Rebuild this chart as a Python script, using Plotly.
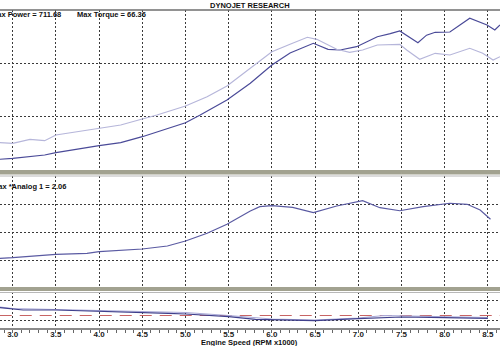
import plotly.graph_objects as go

# ---------------- data ----------------
power_rpm = [2.85, 3.0, 3.37, 3.5, 4.0, 4.25, 4.5, 4.67, 5.0, 5.17, 5.48, 5.75, 6.0, 6.21, 6.48,
             6.65, 6.79, 6.98, 7.22, 7.37, 7.48, 7.69, 7.79, 7.89, 8.06, 8.29, 8.49, 8.58, 8.64]
power_hp = [50.2, 54.8, 70.3, 81.1, 113.9, 128.0, 156.1, 179.5, 221.7, 257.8, 328.1, 406.4, 492.2,
            548.4, 593.9, 565.8, 562.5, 578.0, 624.8, 639.0, 651.6, 596.7, 632.0, 645.5, 646.9,
            711.68, 679.7, 656.3, 679.7]

torque_rpm = [2.85, 3.0, 3.2, 3.37, 3.5, 3.74, 4.0, 4.25, 4.5, 4.67, 5.0, 5.25, 5.48, 5.75, 6.0,
              6.21, 6.41, 6.52, 6.75, 6.9, 7.05, 7.22, 7.48, 7.56, 7.71, 7.89, 8.06, 8.29, 8.44,
              8.56, 8.64]
torque_val = [13.65, 13.35, 15.35, 14.65, 17.5, 19.15, 20.85, 22.5, 25.5, 27.5, 32.0, 36.65, 42.0,
              50.85, 59.15, 62.85, 66.36, 65.35, 60.35, 58.85, 60.0, 62.5, 62.85, 60.0, 55.35,
              58.35, 57.5, 60.85, 58.35, 55.0, 56.65]

analog_rpm = [2.85, 3.0, 3.5, 3.86, 4.0, 4.5, 4.79, 5.0, 5.25, 5.48, 5.75, 5.86, 6.0, 6.24, 6.48,
              6.75, 7.05, 7.25, 7.48, 7.75, 8.06, 8.26, 8.41, 8.53]
analog_val = [1.03, 1.041, 1.102, 1.12, 1.148, 1.196, 1.25, 1.339, 1.477, 1.638, 1.875, 1.952,
              1.97, 1.941, 1.845, 1.964, 2.06, 1.934, 1.88, 1.952, 2.013, 1.995, 1.893, 1.727]

afr_rpm = [2.85, 3.0, 3.12, 3.5, 4.0, 4.5, 4.8, 5.0, 5.5, 5.81, 6.0, 6.5, 7.0, 7.5, 8.0, 8.5]
afr_dark = [13.23, 13.1, 13.0, 13.0, 12.9, 12.8, 12.67, 12.6, 12.33, 12.07, 12.05, 11.93, 12.13,
            12.3, 12.23, 12.17]
afr_light_rpm = [2.85, 3.0, 3.5, 4.0, 4.5, 5.0, 5.5, 6.0, 6.5, 7.0, 7.3, 7.6, 8.0, 8.5]
afr_light = [13.3, 13.15, 13.05, 12.95, 12.85, 12.75, 12.45, 12.1, 12.0, 12.2, 12.45, 12.4, 12.3,
             12.25]
afr_target_rpm = [2.85, 8.64]
afr_target = [12.45, 12.45]

title_text = "DYNOJET RESEARCH"
max_power_text = "Max Power = 711.68"
max_torque_text = "Max Torque = 66.36"
max_analog_text = "Max *Analog 1 = 2.06"
x_title = "Engine Speed (RPM x1000)"

# ---------------- layout helpers ----------------
W, H = 500, 346
def py(px):
    return 1 - px / H
def pxx(px):
    return px / W

XR = [2.853, 8.640]
FONT = dict(family="Liberation Sans", size=7.5, color="#111111", weight="bold")
TICKFONT = dict(family="Liberation Sans", size=8, color="#222222", weight="bold")
GRID = dict(showgrid=True, gridcolor="#3a3a3a", griddash="2px,2px", gridwidth=1, zeroline=False,
            automargin=False)

fig = go.Figure()

fig.add_trace(go.Scatter(x=torque_rpm, y=torque_val, mode="lines", xaxis="x", yaxis="y4",
                         line=dict(color="#b6b6da", width=1.2), showlegend=False))
fig.add_trace(go.Scatter(x=power_rpm, y=power_hp, mode="lines", xaxis="x", yaxis="y",
                         line=dict(color="#4a4a98", width=1.2), showlegend=False))
fig.add_trace(go.Scatter(x=analog_rpm, y=analog_val, mode="lines", xaxis="x2", yaxis="y2",
                         line=dict(color="#5a5aa2", width=1.2), showlegend=False))
fig.add_trace(go.Scatter(x=afr_target_rpm, y=afr_target, mode="lines", xaxis="x3", yaxis="y3",
                         line=dict(color="#c86464", width=1.2, dash="12px,8px"), showlegend=False))
fig.add_trace(go.Scatter(x=afr_light_rpm, y=afr_light, mode="lines", xaxis="x3", yaxis="y3",
                         line=dict(color="#aaaad8", width=1.2), showlegend=False))
fig.add_trace(go.Scatter(x=afr_rpm, y=afr_dark, mode="lines", xaxis="x3", yaxis="y3",
                         line=dict(color="#40408c", width=1.2), showlegend=False))

xcommon = dict(range=XR, dtick=0.5, tick0=3.0, tickformat=".1f", **GRID)
fig.update_layout(
    width=W, height=H, margin=dict(l=0, r=0, t=0, b=0, autoexpand=False),
    paper_bgcolor="white", plot_bgcolor="white",
    xaxis=dict(domain=[0, 1], anchor="y", showticklabels=False, **xcommon),
    xaxis2=dict(domain=[0, 1], anchor="y2", showticklabels=False, matches="x", **xcommon),
    xaxis3=dict(domain=[0, 1], anchor="y3", matches="x", showticklabels=True,
                ticks="outside", ticklen=3, tickcolor="#666", tickfont=TICKFONT,
                ticklabelstandoff=-5,
                showline=True, linecolor="#8a8a8a", linewidth=1.5,
                minor=dict(dtick=0.1, ticks="outside", ticklen=3, tickcolor="#666", showgrid=False),
                **xcommon),
    yaxis=dict(domain=[py(170), py(10)], range=[0, 750], dtick=250, showticklabels=False, **GRID),
    yaxis4=dict(overlaying="y", range=[0, 80], showticklabels=False, showgrid=False, zeroline=False,
                automargin=False),
    yaxis2=dict(domain=[py(288), py(176)], range=[0.5, 2.5], dtick=0.5, showticklabels=False, **GRID),
    yaxis3=dict(domain=[py(328), py(292)], range=[11.2, 14.8], tick0=12, dtick=2,
                showticklabels=False, **GRID),
    hovermode=False,
)

shapes = [
    dict(type="line", xref="paper", yref="paper", x0=0, x1=1, y0=py(10), y1=py(10),
         line=dict(color="#6e6e6e", width=1.5), layer="above"),
    dict(type="rect", xref="paper", yref="paper", x0=0, x1=1, y0=py(174.5), y1=py(170),
         fillcolor="#a2a290", line=dict(width=0), layer="above"),
    dict(type="line", xref="paper", yref="paper", x0=0, x1=1, y0=py(176), y1=py(176),
         line=dict(color="#b8b8b8", width=1), layer="above"),
    dict(type="rect", xref="paper", yref="paper", x0=0, x1=1, y0=py(291), y1=py(287),
         fillcolor="#a2a290", line=dict(width=0), layer="above"),
    dict(type="line", xref="paper", yref="paper", x0=0, x1=1, y0=py(292.5), y1=py(292.5),
         line=dict(color="#b8b8b8", width=1), layer="above"),
]
fig.update_layout(shapes=shapes)

ann = [
    dict(text=title_text, x=pxx(249.5), y=py(5), xanchor="center", yanchor="middle"),
    dict(text=max_power_text, x=pxx(63), y=py(14.5), xanchor="right", yanchor="middle"),
    dict(text=max_torque_text, x=pxx(75), y=py(14.5), xanchor="left", yanchor="middle"),
    dict(text=max_analog_text, x=pxx(68), y=py(186), xanchor="right", yanchor="middle"),
    dict(text=x_title, x=pxx(249), y=py(342), xanchor="center", yanchor="middle"),
]
for a in ann:
    a.update(xref="paper", yref="paper", showarrow=False, font=FONT)
fig.update_layout(annotations=ann)

fig.write_html("out.html", config={"displayModeBar": False, "staticPlot": True},
               post_script="document.body.style.margin='0';document.body.style.overflow='hidden';")
